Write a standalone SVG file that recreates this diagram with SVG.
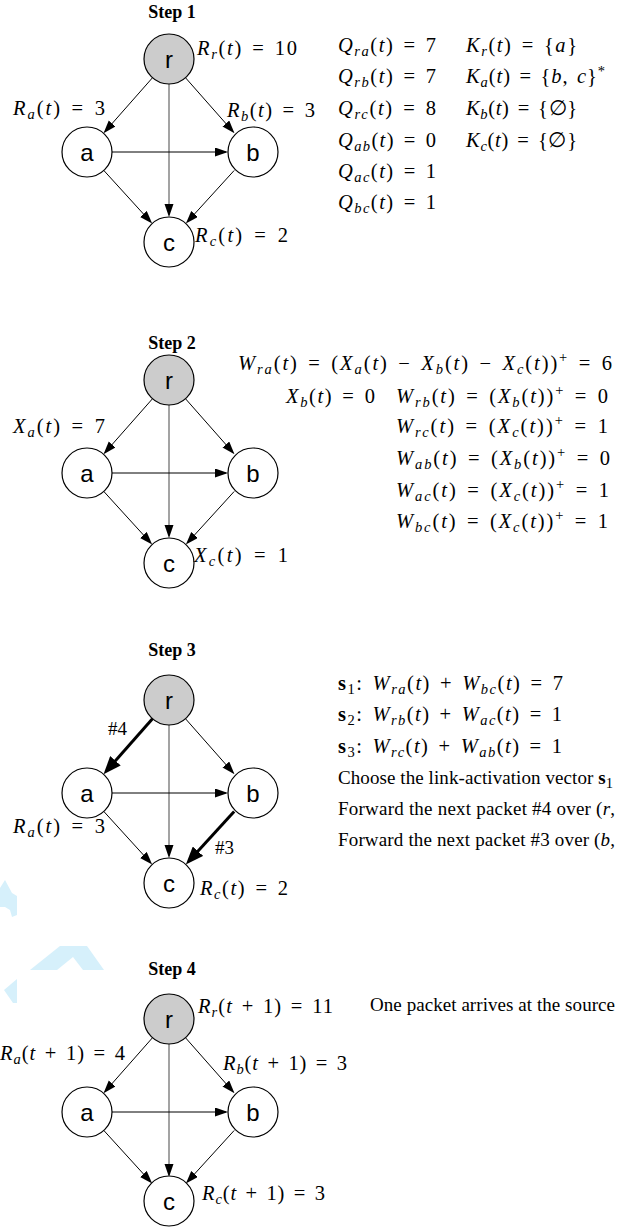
<svg xmlns="http://www.w3.org/2000/svg" width="622" height="1228" viewBox="0 0 622 1228">
<style>
.m{font-family:"Liberation Serif","Times New Roman",serif;font-size:20.5px;word-spacing:2.5px;fill:#000}
.p{font-family:"Liberation Serif","Times New Roman",serif;font-size:19px;fill:#000}
.i{font-style:italic}
.s{font-size:14.5px;font-style:italic}
.n{font-size:14.5px;font-style:normal}
.b{font-weight:bold;font-style:normal}
.title{font-family:"Liberation Serif","Times New Roman",serif;font-size:18px;font-weight:bold;text-anchor:middle;fill:#000}
.lbl{font-family:"Liberation Sans",Arial,sans-serif;font-size:24px;text-anchor:middle;fill:#000}
.node{fill:#fff;stroke:#000;stroke-width:1.2}
.src{fill:#cccccc;stroke:#000;stroke-width:1.2}
.e{stroke:#000;stroke-width:1;fill:none;marker-end:url(#ah)}
.ev{stroke:#666;stroke-width:1.2;fill:none;marker-end:url(#ah)}
.et{stroke:#000;stroke-width:3;fill:none;marker-end:url(#ahT)}
.wm{fill:#d6f0fb}
</style>
<defs>
<marker id="ah" markerUnits="userSpaceOnUse" markerWidth="13" markerHeight="10" refX="11" refY="4.5" orient="auto"><path d="M0,0 L13,4.5 L0,9 z" fill="#000"/></marker>
<marker id="ahT" markerUnits="userSpaceOnUse" markerWidth="18" markerHeight="14" refX="10" refY="7" orient="auto"><path d="M0,0 L18,7 L0,14 z" fill="#000"/></marker>
</defs>

<g id="watermark">
<polygon class="wm" points="0,888 5,880 12,893 17,896 17,915 12,917 10,910 5,907 0,907"/>
<polygon class="wm" points="30,970 60,946 87,946 104,970 83,970 73,957 57,970"/>
<polygon class="wm" points="4,990 17,979 17,1003 13,1003"/>
</g>

<!-- STEP 1 -->
<text class="title" x="172" y="18">Step 1</text>
<g id="step1" transform="translate(0,0)">
<g id="step1-connectors">
<line class="e" x1="152.47" y1="77.75" x2="104.85" y2="131.75"/>
<line class="e" x1="185.53" y1="77.75" x2="233.15" y2="131.75"/>
<line class="ev" x1="169" y1="84" x2="169" y2="215"/>
<line class="e" x1="112" y1="152" x2="226" y2="152"/>
<line class="e" x1="103.84" y1="170.48" x2="150.81" y2="222.04"/>
<line class="e" x1="234.16" y1="170.48" x2="187.19" y2="222.04"/>
</g>
<g id="step1-node-r"><circle class="src" cx="169" cy="59" r="25"/><text class="lbl" x="169" y="68">r</text></g>
<g id="step1-node-a"><circle class="node" cx="87" cy="152" r="25"/><text class="lbl" x="87" y="161">a</text></g>
<g id="step1-node-b"><circle class="node" cx="253" cy="152" r="25"/><text class="lbl" x="253" y="161">b</text></g>
<g id="step1-node-c"><circle class="node" cx="169" cy="242" r="25"/><text class="lbl" x="169" y="251">c</text></g>
</g>
<g id="step1-labels">
<text class="m" x="197" y="55" textLength="100" lengthAdjust="spacing"><tspan class="i">R</tspan><tspan class="s" dy="4">r</tspan><tspan dy="-4">(</tspan><tspan class="i">t</tspan>) = 10</text>
<text class="m" x="13" y="115" textLength="92" lengthAdjust="spacing"><tspan class="i">R</tspan><tspan class="s" dy="4">a</tspan><tspan dy="-4">(</tspan><tspan class="i">t</tspan>) = 3</text>
<text class="m" x="227" y="117" textLength="88" lengthAdjust="spacing"><tspan class="i">R</tspan><tspan class="s" dy="4">b</tspan><tspan dy="-4">(</tspan><tspan class="i">t</tspan>) = 3</text>
<text class="m" x="195" y="242" textLength="93" lengthAdjust="spacing"><tspan class="i">R</tspan><tspan class="s" dy="4">c</tspan><tspan dy="-4">(</tspan><tspan class="i">t</tspan>) = 2</text>

<text class="m" x="338" y="52" textLength="98" lengthAdjust="spacing"><tspan class="i">Q</tspan><tspan class="s" dy="4">ra</tspan><tspan dy="-4">(</tspan><tspan class="i">t</tspan>) = 7</text>
<text class="m" x="338" y="83" textLength="98" lengthAdjust="spacing"><tspan class="i">Q</tspan><tspan class="s" dy="4">rb</tspan><tspan dy="-4">(</tspan><tspan class="i">t</tspan>) = 7</text>
<text class="m" x="338" y="115" textLength="98" lengthAdjust="spacing"><tspan class="i">Q</tspan><tspan class="s" dy="4">rc</tspan><tspan dy="-4">(</tspan><tspan class="i">t</tspan>) = 8</text>
<text class="m" x="338" y="147" textLength="98" lengthAdjust="spacing"><tspan class="i">Q</tspan><tspan class="s" dy="4">ab</tspan><tspan dy="-4">(</tspan><tspan class="i">t</tspan>) = 0</text>
<text class="m" x="338" y="178" textLength="98" lengthAdjust="spacing"><tspan class="i">Q</tspan><tspan class="s" dy="4">ac</tspan><tspan dy="-4">(</tspan><tspan class="i">t</tspan>) = 1</text>
<text class="m" x="338" y="209" textLength="98" lengthAdjust="spacing"><tspan class="i">Q</tspan><tspan class="s" dy="4">bc</tspan><tspan dy="-4">(</tspan><tspan class="i">t</tspan>) = 1</text>

<text class="m" x="466" y="52" textLength="111" lengthAdjust="spacing"><tspan class="i">K</tspan><tspan class="s" dy="4">r</tspan><tspan dy="-4">(</tspan><tspan class="i">t</tspan>) = {<tspan class="i">a</tspan>}</text>
<text class="m" x="466" y="83" textLength="139" lengthAdjust="spacing"><tspan class="i">K</tspan><tspan class="s" dy="4">a</tspan><tspan dy="-4">(</tspan><tspan class="i">t</tspan>) = {<tspan class="i">b</tspan>, <tspan class="i">c</tspan>}<tspan class="n" dy="-7">*</tspan></text>
<text class="m" x="466" y="115" textLength="111" lengthAdjust="spacing"><tspan class="i">K</tspan><tspan class="s" dy="4">b</tspan><tspan dy="-4">(</tspan><tspan class="i">t</tspan>) = {∅}</text>
<text class="m" x="466" y="147" textLength="111" lengthAdjust="spacing"><tspan class="i">K</tspan><tspan class="s" dy="4">c</tspan><tspan dy="-4">(</tspan><tspan class="i">t</tspan>) = {∅}</text>
</g>

<!-- STEP 2 -->
<text class="title" x="172" y="349">Step 2</text>
<g id="step2" transform="translate(0,321)">
<g id="step2-connectors">
<line class="e" x1="152.47" y1="77.75" x2="104.85" y2="131.75"/>
<line class="e" x1="185.53" y1="77.75" x2="233.15" y2="131.75"/>
<line class="ev" x1="169" y1="84" x2="169" y2="215"/>
<line class="e" x1="112" y1="152" x2="226" y2="152"/>
<line class="e" x1="103.84" y1="170.48" x2="150.81" y2="222.04"/>
<line class="e" x1="234.16" y1="170.48" x2="187.19" y2="222.04"/>
</g>
<g id="step2-node-r"><circle class="src" cx="169" cy="59" r="25"/><text class="lbl" x="169" y="68">r</text></g>
<g id="step2-node-a"><circle class="node" cx="87" cy="152" r="25"/><text class="lbl" x="87" y="161">a</text></g>
<g id="step2-node-b"><circle class="node" cx="253" cy="152" r="25"/><text class="lbl" x="253" y="161">b</text></g>
<g id="step2-node-c"><circle class="node" cx="169" cy="242" r="25"/><text class="lbl" x="169" y="251">c</text></g>
</g>
<g id="step2-labels">
<text class="m" x="13" y="433" textLength="92" lengthAdjust="spacing"><tspan class="i">X</tspan><tspan class="s" dy="4">a</tspan><tspan dy="-4">(</tspan><tspan class="i">t</tspan>) = 7</text>
<text class="m" x="194" y="562" textLength="94" lengthAdjust="spacing"><tspan class="i">X</tspan><tspan class="s" dy="4">c</tspan><tspan dy="-4">(</tspan><tspan class="i">t</tspan>) = 1</text>
<text class="m" x="238" y="370" textLength="374" lengthAdjust="spacing"><tspan class="i">W</tspan><tspan class="s" dy="4">ra</tspan><tspan dy="-4">(</tspan><tspan class="i">t</tspan>) = (<tspan class="i">X</tspan><tspan class="s" dy="4">a</tspan><tspan dy="-4">(</tspan><tspan class="i">t</tspan>) − <tspan class="i">X</tspan><tspan class="s" dy="4">b</tspan><tspan dy="-4">(</tspan><tspan class="i">t</tspan>) − <tspan class="i">X</tspan><tspan class="s" dy="4">c</tspan><tspan dy="-4">(</tspan><tspan class="i">t</tspan>))<tspan class="n" dy="-8">+</tspan><tspan dy="8"> = 6</tspan></text>
<text class="m" x="286" y="403" textLength="89" lengthAdjust="spacing"><tspan class="i">X</tspan><tspan class="s" dy="4">b</tspan><tspan dy="-4">(</tspan><tspan class="i">t</tspan>) = 0</text>
<text class="m" x="396" y="403" textLength="212" lengthAdjust="spacing"><tspan class="i">W</tspan><tspan class="s" dy="4">rb</tspan><tspan dy="-4">(</tspan><tspan class="i">t</tspan>) = (<tspan class="i">X</tspan><tspan class="s" dy="4">b</tspan><tspan dy="-4">(</tspan><tspan class="i">t</tspan>))<tspan class="n" dy="-8">+</tspan><tspan dy="8"> = 0</tspan></text>
<text class="m" x="396" y="433" textLength="212" lengthAdjust="spacing"><tspan class="i">W</tspan><tspan class="s" dy="4">rc</tspan><tspan dy="-4">(</tspan><tspan class="i">t</tspan>) = (<tspan class="i">X</tspan><tspan class="s" dy="4">c</tspan><tspan dy="-4">(</tspan><tspan class="i">t</tspan>))<tspan class="n" dy="-8">+</tspan><tspan dy="8"> = 1</tspan></text>
<text class="m" x="396" y="465" textLength="214" lengthAdjust="spacing"><tspan class="i">W</tspan><tspan class="s" dy="4">ab</tspan><tspan dy="-4">(</tspan><tspan class="i">t</tspan>) = (<tspan class="i">X</tspan><tspan class="s" dy="4">b</tspan><tspan dy="-4">(</tspan><tspan class="i">t</tspan>))<tspan class="n" dy="-8">+</tspan><tspan dy="8"> = 0</tspan></text>
<text class="m" x="396" y="497" textLength="213" lengthAdjust="spacing"><tspan class="i">W</tspan><tspan class="s" dy="4">ac</tspan><tspan dy="-4">(</tspan><tspan class="i">t</tspan>) = (<tspan class="i">X</tspan><tspan class="s" dy="4">c</tspan><tspan dy="-4">(</tspan><tspan class="i">t</tspan>))<tspan class="n" dy="-8">+</tspan><tspan dy="8"> = 1</tspan></text>
<text class="m" x="396" y="528" textLength="212" lengthAdjust="spacing"><tspan class="i">W</tspan><tspan class="s" dy="4">bc</tspan><tspan dy="-4">(</tspan><tspan class="i">t</tspan>) = (<tspan class="i">X</tspan><tspan class="s" dy="4">c</tspan><tspan dy="-4">(</tspan><tspan class="i">t</tspan>))<tspan class="n" dy="-8">+</tspan><tspan dy="8"> = 1</tspan></text>
</g>

<!-- STEP 3 -->
<text class="title" x="172" y="656">Step 3</text>
<g id="step3" transform="translate(0,641)">
<g id="step3-connectors">
<line class="et" x1="152.47" y1="77.75" x2="108.82" y2="127.25"/>
<line class="e" x1="185.53" y1="77.75" x2="233.15" y2="131.75"/>
<line class="ev" x1="169" y1="84" x2="169" y2="215"/>
<line class="e" x1="112" y1="152" x2="226" y2="152"/>
<line class="e" x1="103.84" y1="170.48" x2="150.81" y2="222.04"/>
<line class="et" x1="234.16" y1="170.48" x2="191.23" y2="217.61"/>
</g>
<g id="step3-node-r"><circle class="src" cx="169" cy="59" r="25"/><text class="lbl" x="169" y="68">r</text></g>
<g id="step3-node-a"><circle class="node" cx="87" cy="152" r="25"/><text class="lbl" x="87" y="161">a</text></g>
<g id="step3-node-b"><circle class="node" cx="253" cy="152" r="25"/><text class="lbl" x="253" y="161">b</text></g>
<g id="step3-node-c"><circle class="node" cx="169" cy="242" r="25"/><text class="lbl" x="169" y="251">c</text></g>
</g>
<g id="step3-labels">
<text class="p" x="108" y="735">#4</text>
<text class="p" x="215" y="854">#3</text>
<text class="m" x="13" y="833" textLength="92" lengthAdjust="spacing"><tspan class="i">R</tspan><tspan class="s" dy="4">a</tspan><tspan dy="-4">(</tspan><tspan class="i">t</tspan>) = 3</text>
<text class="m" x="200" y="895" textLength="88" lengthAdjust="spacing"><tspan class="i">R</tspan><tspan class="s" dy="4">c</tspan><tspan dy="-4">(</tspan><tspan class="i">t</tspan>) = 2</text>
<text class="m" x="338" y="690" textLength="225" lengthAdjust="spacing"><tspan class="b">s</tspan><tspan class="n" dy="4">1</tspan><tspan dy="-4">: </tspan><tspan class="i">W</tspan><tspan class="s" dy="4">ra</tspan><tspan dy="-4">(</tspan><tspan class="i">t</tspan>) + <tspan class="i">W</tspan><tspan class="s" dy="4">bc</tspan><tspan dy="-4">(</tspan><tspan class="i">t</tspan>) = 7</text>
<text class="m" x="338" y="721" textLength="224" lengthAdjust="spacing"><tspan class="b">s</tspan><tspan class="n" dy="4">2</tspan><tspan dy="-4">: </tspan><tspan class="i">W</tspan><tspan class="s" dy="4">rb</tspan><tspan dy="-4">(</tspan><tspan class="i">t</tspan>) + <tspan class="i">W</tspan><tspan class="s" dy="4">ac</tspan><tspan dy="-4">(</tspan><tspan class="i">t</tspan>) = 1</text>
<text class="m" x="338" y="753" textLength="224" lengthAdjust="spacing"><tspan class="b">s</tspan><tspan class="n" dy="4">3</tspan><tspan dy="-4">: </tspan><tspan class="i">W</tspan><tspan class="s" dy="4">rc</tspan><tspan dy="-4">(</tspan><tspan class="i">t</tspan>) + <tspan class="i">W</tspan><tspan class="s" dy="4">ab</tspan><tspan dy="-4">(</tspan><tspan class="i">t</tspan>) = 1</text>
<text class="p" x="338" y="784" textLength="275" lengthAdjust="spacing">Choose the link-activation vector <tspan class="b">s</tspan><tspan class="n" dy="4">1</tspan></text>
<text class="p" x="338" y="815" textLength="277" lengthAdjust="spacing">Forward the next packet #4 over (<tspan class="i">r</tspan>,</text>
<text class="p" x="338" y="846" textLength="277" lengthAdjust="spacing">Forward the next packet #3 over (<tspan class="i">b</tspan>,</text>
</g>

<!-- STEP 4 -->
<text class="title" x="172" y="975">Step 4</text>
<g id="step4" transform="translate(0,960)">
<g id="step4-connectors">
<line class="e" x1="152.47" y1="77.75" x2="104.85" y2="131.75"/>
<line class="e" x1="185.53" y1="77.75" x2="233.15" y2="131.75"/>
<line class="ev" x1="169" y1="84" x2="169" y2="215"/>
<line class="e" x1="112" y1="152" x2="226" y2="152"/>
<line class="e" x1="103.84" y1="170.48" x2="150.81" y2="222.04"/>
<line class="e" x1="234.16" y1="170.48" x2="187.19" y2="222.04"/>
</g>
<g id="step4-node-r"><circle class="src" cx="169" cy="59" r="25"/><text class="lbl" x="169" y="68">r</text></g>
<g id="step4-node-a"><circle class="node" cx="87" cy="152" r="25"/><text class="lbl" x="87" y="161">a</text></g>
<g id="step4-node-b"><circle class="node" cx="253" cy="152" r="25"/><text class="lbl" x="253" y="161">b</text></g>
<g id="step4-node-c"><circle class="node" cx="169" cy="241" r="25"/><text class="lbl" x="169" y="250">c</text></g>
</g>
<g id="step4-labels">
<text class="m" x="198" y="1013" textLength="135" lengthAdjust="spacing"><tspan class="i">R</tspan><tspan class="s" dy="4">r</tspan><tspan dy="-4">(</tspan><tspan class="i">t</tspan> + 1) = 11</text>
<text class="m" x="0" y="1060" textLength="125" lengthAdjust="spacing"><tspan class="i">R</tspan><tspan class="s" dy="4">a</tspan><tspan dy="-4">(</tspan><tspan class="i">t</tspan> + 1) = 4</text>
<text class="m" x="223" y="1070" textLength="124" lengthAdjust="spacing"><tspan class="i">R</tspan><tspan class="s" dy="4">b</tspan><tspan dy="-4">(</tspan><tspan class="i">t</tspan> + 1) = 3</text>
<text class="m" x="202" y="1200" textLength="123" lengthAdjust="spacing"><tspan class="i">R</tspan><tspan class="s" dy="4">c</tspan><tspan dy="-4">(</tspan><tspan class="i">t</tspan> + 1) = 3</text>
<text class="p" x="370" y="1011" textLength="245" lengthAdjust="spacing">One packet arrives at the source</text>
</g>
</svg>
